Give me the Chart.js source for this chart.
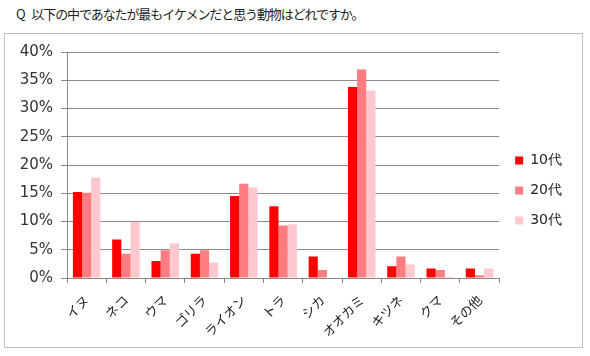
<!DOCTYPE html>
<html><head><meta charset="utf-8">
<script src="https://cdn.jsdelivr.net/npm/chart.js@4"></script>
<style>
html,body{margin:0;padding:0;background:#fff;}
#title{position:absolute;left:16px;top:4px;font:13px "Noto Sans CJK JP",sans-serif;color:#222;letter-spacing:-1.1px;word-spacing:5px;white-space:nowrap;}
#frame{position:absolute;left:4px;top:33px;width:577px;height:313px;border:1px solid #bfbfbf;}
canvas{display:block;}
</style></head>
<body>
<div id="title">Q 以下の中であなたが最もイケメンだと思う動物はどれですか。</div>
<div id="frame"><canvas id="c" width="577" height="313"></canvas></div>
<script>
const categories = ["イヌ","ネコ","ウマ","ゴリラ","ライオン","トラ","シカ","オオカミ","キツネ","クマ","その他"];
const teens    = [15.2, 6.8, 3.0, 4.3, 14.5, 12.7, 3.8, 33.8, 2.1, 1.7, 1.7];
const twenties = [15.1, 4.3, 4.9, 4.9, 16.7, 9.3, 1.4, 36.9, 3.8, 1.4, 0.5];
const thirties = [17.8, 9.9, 6.1, 2.7, 16.0, 9.5, 0.0, 33.2, 2.4, 0.2, 1.7];
const seriesNames = ["10代","20代","30代"];
const yTicks = [0,5,10,15,20,25,30,35,40];

const colors = ["#ff0000","#ff7c80","#ffc7ce"];
const tickFont = {family:"DejaVu Sans", size:15};
const jpFont = {family:"Noto Sans CJK JP", size:13};

const legendShift = {
  id:'legendShift',
  afterLayout(chart){ const l = chart.legend; if(l){ l.top -= 9; l.bottom -= 9; } }
};

new Chart(document.getElementById('c'), {
  type:'bar',
  data:{
    labels:categories,
    datasets:[teens,twenties,thirties].map((d,i)=>({
      label:seriesNames[i], data:d, backgroundColor:colors[i], borderWidth:0,
      barPercentage:1.0, categoryPercentage:0.7
    }))
  },
  plugins:[legendShift],
  options:{
    responsive:false, animation:false,
    layout:{padding:{left:0,top:18,right:10,bottom:0}},
    plugins:{
      legend:{position:'right', labels:{boxWidth:8, boxHeight:8, padding:16, color:'#222', font:{family:"DejaVu Sans", size:14}}},
      tooltip:{enabled:false}
    },
    scales:{
      x:{
        grid:{display:true, drawOnChartArea:false, drawTicks:true, tickLength:5, color:'#888', offset:true},
        border:{color:'#888'},
        ticks:{maxRotation:45, minRotation:45, color:'#222', font:jpFont, padding:9},
        afterFit(s){ s.height = 69; }
      },
      y:{
        min:0, max:40,
        afterBuildTicks(s){ s.ticks = yTicks.map(v=>({value:v})); },
        grid:{color:'#8c8c8c', tickLength:6, drawTicks:true},
        border:{color:'#8c8c8c'},
        ticks:{color:'#333', font:tickFont, padding:8, callback:v=>v+'%'},
        afterFit(s){ s.width = 62; }
      }
    }
  }
});
</script>
</body></html>
